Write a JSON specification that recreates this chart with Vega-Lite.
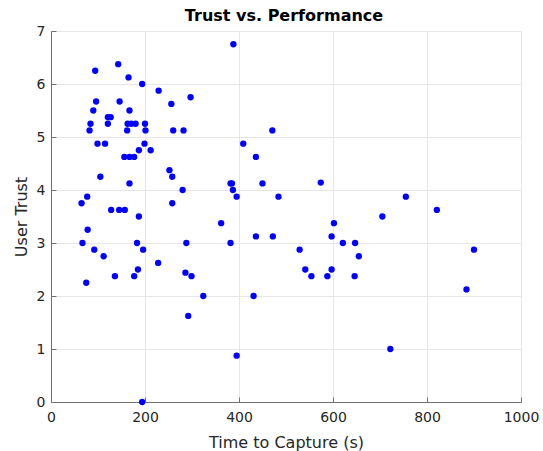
{
  "$schema": "https://vega.github.io/schema/vega-lite/v6.json",
  "width": 470,
  "height": 371,
  "autosize": {"type": "none"},
  "padding": {"left": 51, "top": 31, "right": 22, "bottom": 49},
  "background": "white",
  "title": {"text": "Trust vs. Performance", "font": "DejaVu Sans", "fontSize": 16, "fontWeight": "bold", "color": "#000000", "align": "center", "frame": "group", "orient": "none", "dx": 233, "dy": -7, "baseline": "bottom"},
  "data": {"values": [
    {"time": 388, "trust": 6.75},
    {"time": 143, "trust": 6.375},
    {"time": 94, "trust": 6.25},
    {"time": 165, "trust": 6.125},
    {"time": 194, "trust": 6.0},
    {"time": 229, "trust": 5.875},
    {"time": 297, "trust": 5.75},
    {"time": 256, "trust": 5.625},
    {"time": 96, "trust": 5.67},
    {"time": 146, "trust": 5.67},
    {"time": 90, "trust": 5.5},
    {"time": 167, "trust": 5.5},
    {"time": 121, "trust": 5.375},
    {"time": 127, "trust": 5.375},
    {"time": 84, "trust": 5.25},
    {"time": 121, "trust": 5.25},
    {"time": 163, "trust": 5.25},
    {"time": 171, "trust": 5.25},
    {"time": 180, "trust": 5.25},
    {"time": 200, "trust": 5.25},
    {"time": 82, "trust": 5.125},
    {"time": 162, "trust": 5.125},
    {"time": 201, "trust": 5.125},
    {"time": 260, "trust": 5.125},
    {"time": 282, "trust": 5.125},
    {"time": 471, "trust": 5.125},
    {"time": 99, "trust": 4.875},
    {"time": 115, "trust": 4.875},
    {"time": 199, "trust": 4.875},
    {"time": 409, "trust": 4.875},
    {"time": 187, "trust": 4.75},
    {"time": 212, "trust": 4.75},
    {"time": 156, "trust": 4.625},
    {"time": 167, "trust": 4.625},
    {"time": 177, "trust": 4.625},
    {"time": 436, "trust": 4.625},
    {"time": 252, "trust": 4.375},
    {"time": 105, "trust": 4.25},
    {"time": 258, "trust": 4.25},
    {"time": 167, "trust": 4.125},
    {"time": 382, "trust": 4.125},
    {"time": 385, "trust": 4.125},
    {"time": 450, "trust": 4.125},
    {"time": 574, "trust": 4.14},
    {"time": 387, "trust": 4.0},
    {"time": 280, "trust": 4.0},
    {"time": 395, "trust": 3.875},
    {"time": 77, "trust": 3.875},
    {"time": 484, "trust": 3.875},
    {"time": 755, "trust": 3.875},
    {"time": 65, "trust": 3.75},
    {"time": 258, "trust": 3.75},
    {"time": 128, "trust": 3.625},
    {"time": 145, "trust": 3.625},
    {"time": 157, "trust": 3.625},
    {"time": 821, "trust": 3.625},
    {"time": 187, "trust": 3.5},
    {"time": 705, "trust": 3.5},
    {"time": 362, "trust": 3.375},
    {"time": 602, "trust": 3.375},
    {"time": 78, "trust": 3.25},
    {"time": 436, "trust": 3.125},
    {"time": 472, "trust": 3.125},
    {"time": 597, "trust": 3.125},
    {"time": 67, "trust": 3.0},
    {"time": 183, "trust": 3.0},
    {"time": 288, "trust": 3.0},
    {"time": 382, "trust": 3.0},
    {"time": 621, "trust": 3.0},
    {"time": 647, "trust": 3.0},
    {"time": 92, "trust": 2.875},
    {"time": 196, "trust": 2.875},
    {"time": 529, "trust": 2.875},
    {"time": 900, "trust": 2.875},
    {"time": 112, "trust": 2.75},
    {"time": 655, "trust": 2.75},
    {"time": 228, "trust": 2.625},
    {"time": 185, "trust": 2.5},
    {"time": 541, "trust": 2.5},
    {"time": 597, "trust": 2.5},
    {"time": 286, "trust": 2.44},
    {"time": 136, "trust": 2.375},
    {"time": 177, "trust": 2.375},
    {"time": 299, "trust": 2.375},
    {"time": 554, "trust": 2.375},
    {"time": 588, "trust": 2.375},
    {"time": 646, "trust": 2.375},
    {"time": 75, "trust": 2.25},
    {"time": 884, "trust": 2.125},
    {"time": 324, "trust": 2.0},
    {"time": 431, "trust": 2.0},
    {"time": 292, "trust": 1.625},
    {"time": 395, "trust": 0.875},
    {"time": 722, "trust": 1.0},
    {"time": 194, "trust": 0.0}
  ]},
  "mark": {"type": "circle", "size": 40, "color": "#0000FF", "opacity": 1, "clip": false},
  "encoding": {
    "x": {"field": "time", "type": "quantitative", "title": "Time to Capture (s)",
      "scale": {"domain": [0, 1000], "nice": false, "zero": false},
      "axis": {"values": [0, 200, 400, 600, 800, 1000], "format": "d", "grid": true, "tickSize": -5, "labelPadding": 13, "titlePadding": 10}},
    "y": {"field": "trust", "type": "quantitative", "title": "User Trust",
      "scale": {"domain": [0, 7], "nice": false, "zero": false},
      "axis": {"values": [0, 1, 2, 3, 4, 5, 6, 7], "format": "d", "grid": true, "tickSize": -5, "labelPadding": 11, "titlePadding": 7}}
  },
  "config": {
    "view": {"stroke": null},
    "axis": {
      "labelFont": "DejaVu Sans", "labelFontSize": 14, "labelColor": "#262626",
      "titleFont": "DejaVu Sans", "titleFontSize": 16, "titleFontWeight": "normal", "titleColor": "#262626",
      "domainColor": "#707070", "domainWidth": 1, "tickColor": "#707070", "tickWidth": 1,
      "gridColor": "#e6e6e6", "gridWidth": 1, "labelFlush": false
    }
  }
}
